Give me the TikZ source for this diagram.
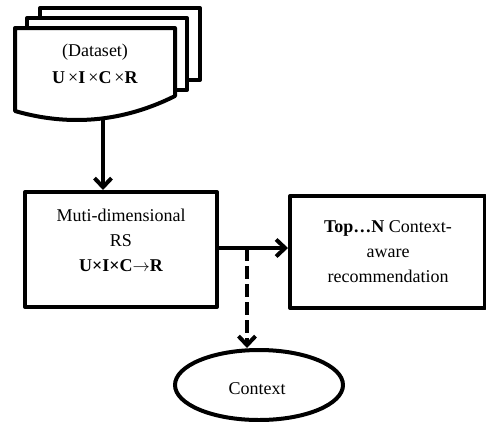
\documentclass[tikz,border=0pt]{standalone}
\usepackage{fontspec}
\setmainfont{Liberation Serif}
\usetikzlibrary{arrows.meta,shapes.geometric}
\begin{document}
\begin{tikzpicture}[x=1pt,y=-1pt,
  thick line/.style={line width=4pt,line join=round},
  page/.style={thick line,draw=black,fill=white},
  box/.style={thick line,draw=black,fill=white,rectangle,inner sep=0pt},
  lbl/.style={align=center,font=\fontsize{18}{25}\selectfont,inner sep=0pt},
  arr/.style={line width=4pt,-{Straight Barb[length=9pt,width=17pt,line width=4pt]}},
  dasharr/.style={arr,dash pattern=on 13pt off 5pt}]
\useasboundingbox (0,0) rectangle (486,421);
% document stack
\draw[page] (40,8) rectangle (200,80);
\draw[page] (27,18) rectangle (187,90);
\draw[page] (15,28) -- (175,28) -- (175,96) .. controls (115,126) and (60,124) .. (15,111) -- cycle;
\node[lbl] (dstxt) at (95,52) {(Dataset)};
\node[lbl] (dsform) at (95,78) {\textbf{U}\,×\textbf{I}\,×\textbf{C}\,×\textbf{R}};
\coordinate (docout) at (103,118);
% RS box
\node[box,minimum width=192pt,minimum height=115pt] (rs) at (121,249.5) {};
\node[lbl] (rstxt) at (121,240) {Muti-dimensional\\RS\\\textbf{U×I×C}$\rightarrow$\textbf{R}};
% Top-N box
\node[box,minimum width=195pt,minimum height=112pt] (top) at (387.5,252) {};
\node[lbl] (toptxt) at (388,252) {\textbf{Top…N} Context-\\aware\\recommendation};
% Context ellipse
\node[ellipse,thick line,draw=black,minimum width=168pt,minimum height=70pt,inner sep=0pt] (ctx) at (259,385) {};
\node[lbl] (ctxtxt) at (257,389) {Context};
% connectors
\draw[arr] (docout) -- (docout |- rs.north);
\coordinate (rsout) at (rs.east |- 0,248);
\coordinate (split) at (247,248);
\draw[arr] (rsout) -- (rsout -| top.west);
\draw[dasharr] (split) -- (split |- ctx.north);
\end{tikzpicture}
\end{document}
